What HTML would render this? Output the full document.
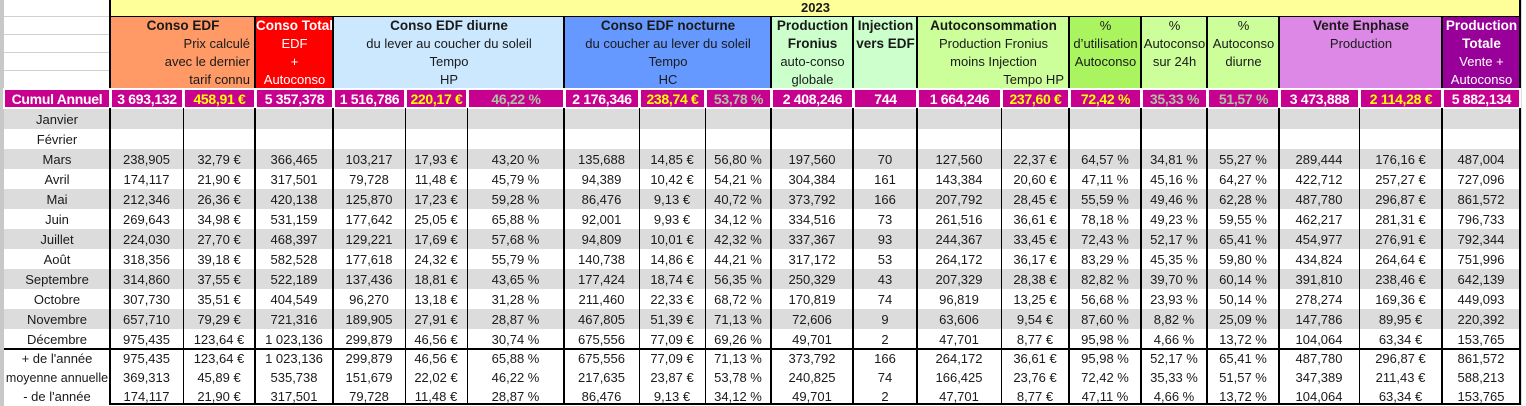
<!DOCTYPE html>
<html><head><meta charset="utf-8"><style>
*{margin:0;padding:0;box-sizing:border-box}
body{width:1526px;height:406px;background:#fff;position:relative;overflow:hidden;font-family:"Liberation Sans","DejaVu Sans",sans-serif;color:#1a1a1a}
.a{position:absolute}
.hb{position:absolute;top:17px;height:71px;font-size:13px;line-height:18px;overflow:hidden;white-space:nowrap}
.hb div{height:18px}
.c{text-align:center}.r{text-align:right;padding-right:5px}
b{font-weight:bold;font-size:13.5px}
table{position:absolute;left:4px;border-collapse:collapse;table-layout:fixed;font-size:13px}
td{text-align:center;white-space:nowrap;overflow:hidden;padding:0}
tr.m td{height:20px}tr.s td{height:19px}
tr.g td{background:#dcdcdc}
.vt{position:absolute;width:2px;background:#000}
.vn{position:absolute;width:1px;background:#000;top:108px;height:297px}
.cu{position:absolute;top:89px;height:19px;background:#c8008f;color:#fff;font-weight:bold;font-size:14px;letter-spacing:-0.3px;line-height:19px;text-align:center;border:1px solid #fff;outline:1px solid #fff;white-space:nowrap;overflow:hidden}
.y{color:#ffff00}.p{color:#a9c4a0}
</style></head><body>
<div class="a" style="left:0;top:0;width:4px;height:406px;background:#c8c8c8"></div>
<div class="a" style="left:4px;top:16px;width:106px;height:1px;background:#d0d0d0"></div>
<div class="a" style="left:4px;top:34px;width:106px;height:1px;background:#d0d0d0"></div>
<div class="a" style="left:4px;top:52px;width:106px;height:1px;background:#d0d0d0"></div>
<div class="a" style="left:4px;top:70px;width:106px;height:1px;background:#d0d0d0"></div>
<div class="a" style="left:1521px;top:0;width:5px;height:406px;background:#fff;border-left:1px solid #ddd"></div>
<div class="a" style="left:110px;top:0;width:1411px;height:17px;background:#ffff99;font-weight:bold;font-size:13px;line-height:15px;text-align:center">2023</div>
<div class="a" style="left:110px;top:16px;width:1411px;height:2px;background:#000"></div>
<div class="hb" style="left:111px;width:144px;background:#ff9966"><div class="c"><b>Conso EDF</b></div><div class="r">Prix calculé</div><div class="r">avec le dernier</div><div class="r">tarif connu</div></div>
<div class="hb c" style="left:256px;width:77px;background:#ff0000;color:#fff"><div><b>Conso Totale</b></div><div>EDF</div><div>+</div><div>Autoconso</div></div>
<div class="hb c" style="left:334px;width:230px;background:#cce8ff"><div><b>Conso EDF diurne</b></div><div>du lever au coucher du soleil</div><div>Tempo</div><div>HP</div></div>
<div class="hb c" style="left:565px;width:206px;background:#6699ff"><div><b>Conso EDF nocturne</b></div><div>du coucher au lever du soleil</div><div>Tempo</div><div>HC</div></div>
<div class="hb c" style="left:772px;width:81px;background:#ccffcc"><div><b>Production</b></div><div><b>Fronius</b></div><div>auto-conso</div><div>globale</div></div>
<div class="hb c" style="left:854px;width:63px;background:#ccffcc"><div><b>Injection</b></div><div><b>vers EDF</b></div></div>
<div class="hb" style="left:918px;width:151px;background:#ccff99"><div class="c"><b>Autoconsommation</b></div><div class="c">Production Fronius</div><div class="c">moins Injection</div><div class="r">Tempo HP</div></div>
<div class="hb c" style="left:1070px;width:71px;background:#aaf55f"><div>%</div><div>d’utilisation</div><div>Autoconso</div></div>
<div class="hb c" style="left:1142px;width:65px;background:#ccff99"><div>%</div><div>Autoconso</div><div>sur 24h</div></div>
<div class="hb c" style="left:1208px;width:71px;background:#ccff99"><div>%</div><div>Autoconso</div><div>diurne</div></div>
<div class="hb c" style="left:1280px;width:162px;background:#dd88e6"><div><b>Vente Enphase</b></div><div>Production</div></div>
<div class="hb c" style="left:1443px;width:77px;background:#990099;color:#fff"><div><b>Production</b></div><div><b>Totale</b></div><div>Vente +</div><div>Autoconso</div></div>
<div class="cu" style="left:4px;width:106px">Cumul Annuel</div>
<div class="cu" style="left:111px;width:72px">3 693,132</div>
<div class="cu y" style="left:184px;width:71px">458,91 €</div>
<div class="cu" style="left:256px;width:77px">5 357,378</div>
<div class="cu" style="left:334px;width:71px">1 516,786</div>
<div class="cu y" style="left:406px;width:61px">220,17 €</div>
<div class="cu p" style="left:468px;width:96px">46,22 %</div>
<div class="cu" style="left:565px;width:74px">2 176,346</div>
<div class="cu y" style="left:640px;width:65px">238,74 €</div>
<div class="cu p" style="left:706px;width:65px">53,78 %</div>
<div class="cu" style="left:772px;width:81px">2 408,246</div>
<div class="cu" style="left:854px;width:63px">744</div>
<div class="cu" style="left:918px;width:83px">1 664,246</div>
<div class="cu y" style="left:1002px;width:67px">237,60 €</div>
<div class="cu y" style="left:1070px;width:71px">72,42 %</div>
<div class="cu p" style="left:1142px;width:65px">35,33 %</div>
<div class="cu p" style="left:1208px;width:71px">51,57 %</div>
<div class="cu" style="left:1280px;width:79px">3 473,888</div>
<div class="cu y" style="left:1360px;width:82px">2 114,28 €</div>
<div class="cu" style="left:1443px;width:77px">5 882,134</div>
<table style="top:109px;width:1516px">
<colgroup><col style="width:106px"><col style="width:73px"><col style="width:72px"><col style="width:78px"><col style="width:72px"><col style="width:62px"><col style="width:97px"><col style="width:75px"><col style="width:66px"><col style="width:66px"><col style="width:82px"><col style="width:64px"><col style="width:84px"><col style="width:68px"><col style="width:72px"><col style="width:66px"><col style="width:72px"><col style="width:80px"><col style="width:83px"><col style="width:78px"></colgroup>
<tr class="m g"><td>Janvier</td><td></td><td></td><td></td><td></td><td></td><td></td><td></td><td></td><td></td><td></td><td></td><td></td><td></td><td></td><td></td><td></td><td></td><td></td><td></td></tr>
<tr class="m"><td>Février</td><td></td><td></td><td></td><td></td><td></td><td></td><td></td><td></td><td></td><td></td><td></td><td></td><td></td><td></td><td></td><td></td><td></td><td></td><td></td></tr>
<tr class="m g"><td>Mars</td><td>238,905</td><td>32,79 €</td><td>366,465</td><td>103,217</td><td>17,93 €</td><td>43,20 %</td><td>135,688</td><td>14,85 €</td><td>56,80 %</td><td>197,560</td><td>70</td><td>127,560</td><td>22,37 €</td><td>64,57 %</td><td>34,81 %</td><td>55,27 %</td><td>289,444</td><td>176,16 €</td><td>487,004</td></tr>
<tr class="m"><td>Avril</td><td>174,117</td><td>21,90 €</td><td>317,501</td><td>79,728</td><td>11,48 €</td><td>45,79 %</td><td>94,389</td><td>10,42 €</td><td>54,21 %</td><td>304,384</td><td>161</td><td>143,384</td><td>20,60 €</td><td>47,11 %</td><td>45,16 %</td><td>64,27 %</td><td>422,712</td><td>257,27 €</td><td>727,096</td></tr>
<tr class="m g"><td>Mai</td><td>212,346</td><td>26,36 €</td><td>420,138</td><td>125,870</td><td>17,23 €</td><td>59,28 %</td><td>86,476</td><td>9,13 €</td><td>40,72 %</td><td>373,792</td><td>166</td><td>207,792</td><td>28,45 €</td><td>55,59 %</td><td>49,46 %</td><td>62,28 %</td><td>487,780</td><td>296,87 €</td><td>861,572</td></tr>
<tr class="m"><td>Juin</td><td>269,643</td><td>34,98 €</td><td>531,159</td><td>177,642</td><td>25,05 €</td><td>65,88 %</td><td>92,001</td><td>9,93 €</td><td>34,12 %</td><td>334,516</td><td>73</td><td>261,516</td><td>36,61 €</td><td>78,18 %</td><td>49,23 %</td><td>59,55 %</td><td>462,217</td><td>281,31 €</td><td>796,733</td></tr>
<tr class="m g"><td>Juillet</td><td>224,030</td><td>27,70 €</td><td>468,397</td><td>129,221</td><td>17,69 €</td><td>57,68 %</td><td>94,809</td><td>10,01 €</td><td>42,32 %</td><td>337,367</td><td>93</td><td>244,367</td><td>33,45 €</td><td>72,43 %</td><td>52,17 %</td><td>65,41 %</td><td>454,977</td><td>276,91 €</td><td>792,344</td></tr>
<tr class="m"><td>Août</td><td>318,356</td><td>39,18 €</td><td>582,528</td><td>177,618</td><td>24,32 €</td><td>55,79 %</td><td>140,738</td><td>14,86 €</td><td>44,21 %</td><td>317,172</td><td>53</td><td>264,172</td><td>36,17 €</td><td>83,29 %</td><td>45,35 %</td><td>59,80 %</td><td>434,824</td><td>264,64 €</td><td>751,996</td></tr>
<tr class="m g"><td>Septembre</td><td>314,860</td><td>37,55 €</td><td>522,189</td><td>137,436</td><td>18,81 €</td><td>43,65 %</td><td>177,424</td><td>18,74 €</td><td>56,35 %</td><td>250,329</td><td>43</td><td>207,329</td><td>28,38 €</td><td>82,82 %</td><td>39,70 %</td><td>60,14 %</td><td>391,810</td><td>238,46 €</td><td>642,139</td></tr>
<tr class="m"><td>Octobre</td><td>307,730</td><td>35,51 €</td><td>404,549</td><td>96,270</td><td>13,18 €</td><td>31,28 %</td><td>211,460</td><td>22,33 €</td><td>68,72 %</td><td>170,819</td><td>74</td><td>96,819</td><td>13,25 €</td><td>56,68 %</td><td>23,93 %</td><td>50,14 %</td><td>278,274</td><td>169,36 €</td><td>449,093</td></tr>
<tr class="m g"><td>Novembre</td><td>657,710</td><td>79,29 €</td><td>721,316</td><td>189,905</td><td>27,91 €</td><td>28,87 %</td><td>467,805</td><td>51,39 €</td><td>71,13 %</td><td>72,606</td><td>9</td><td>63,606</td><td>9,54 €</td><td>87,60 %</td><td>8,82 %</td><td>25,09 %</td><td>147,786</td><td>89,95 €</td><td>220,392</td></tr>
<tr class="m"><td>Décembre</td><td>975,435</td><td>123,64 €</td><td>1 023,136</td><td>299,879</td><td>46,56 €</td><td>30,74 %</td><td>675,556</td><td>77,09 €</td><td>69,26 %</td><td>49,701</td><td>2</td><td>47,701</td><td>8,77 €</td><td>95,98 %</td><td>4,66 %</td><td>13,72 %</td><td>104,064</td><td>63,34 €</td><td>153,765</td></tr>
<tr class="s"><td>+ de l'année</td><td>975,435</td><td>123,64 €</td><td>1 023,136</td><td>299,879</td><td>46,56 €</td><td>65,88 %</td><td>675,556</td><td>77,09 €</td><td>71,13 %</td><td>373,792</td><td>166</td><td>264,172</td><td>36,61 €</td><td>95,98 %</td><td>52,17 %</td><td>65,41 %</td><td>487,780</td><td>296,87 €</td><td>861,572</td></tr>
<tr class="s"><td style="font-size:12.5px">moyenne annuelle</td><td>369,313</td><td>45,89 €</td><td>535,738</td><td>151,679</td><td>22,02 €</td><td>46,22 %</td><td>217,635</td><td>23,87 €</td><td>53,78 %</td><td>240,825</td><td>74</td><td>166,425</td><td>23,76 €</td><td>72,42 %</td><td>35,33 %</td><td>51,57 %</td><td>347,389</td><td>211,43 €</td><td>588,213</td></tr>
<tr class="s"><td>- de l'année</td><td>174,117</td><td>21,90 €</td><td>317,501</td><td>79,728</td><td>11,48 €</td><td>28,87 %</td><td>86,476</td><td>9,13 €</td><td>34,12 %</td><td>49,701</td><td>2</td><td>47,701</td><td>8,77 €</td><td>47,11 %</td><td>4,66 %</td><td>13,72 %</td><td>104,064</td><td>63,34 €</td><td>153,765</td></tr>
</table>
<div class="a" style="left:4px;top:348px;width:1517px;height:2px;background:#000"></div>
<div class="a" style="left:110px;top:403px;width:1411px;height:2px;background:#000"></div>
<div class="vt" style="left:109px;top:0;height:88px"></div><div class="vt" style="left:109px;top:108px;height:297px"></div>
<div class="vt" style="left:254px;top:17px;height:71px"></div><div class="vt" style="left:254px;top:108px;height:297px"></div>
<div class="vt" style="left:332px;top:17px;height:71px"></div><div class="vt" style="left:332px;top:108px;height:297px"></div>
<div class="vt" style="left:563px;top:17px;height:71px"></div><div class="vt" style="left:563px;top:108px;height:297px"></div>
<div class="vt" style="left:770px;top:17px;height:71px"></div><div class="vt" style="left:770px;top:108px;height:297px"></div>
<div class="vt" style="left:852px;top:17px;height:71px"></div><div class="vt" style="left:852px;top:108px;height:297px"></div>
<div class="vt" style="left:916px;top:17px;height:71px"></div><div class="vt" style="left:916px;top:108px;height:297px"></div>
<div class="vt" style="left:1068px;top:17px;height:71px"></div><div class="vt" style="left:1068px;top:108px;height:297px"></div>
<div class="vt" style="left:1140px;top:17px;height:71px"></div><div class="vt" style="left:1140px;top:108px;height:297px"></div>
<div class="vt" style="left:1206px;top:17px;height:71px"></div><div class="vt" style="left:1206px;top:108px;height:297px"></div>
<div class="vt" style="left:1278px;top:17px;height:71px"></div><div class="vt" style="left:1278px;top:108px;height:297px"></div>
<div class="vt" style="left:1441px;top:17px;height:71px"></div><div class="vt" style="left:1441px;top:108px;height:297px"></div>
<div class="vt" style="left:1519px;top:0;height:88px"></div><div class="vt" style="left:1519px;top:108px;height:297px"></div>
<div class="vn" style="left:183px"></div>
<div class="vn" style="left:405px"></div>
<div class="vn" style="left:467px"></div>
<div class="vn" style="left:639px"></div>
<div class="vn" style="left:705px"></div>
<div class="vn" style="left:1001px"></div>
<div class="vn" style="left:1359px"></div>
</body></html>
